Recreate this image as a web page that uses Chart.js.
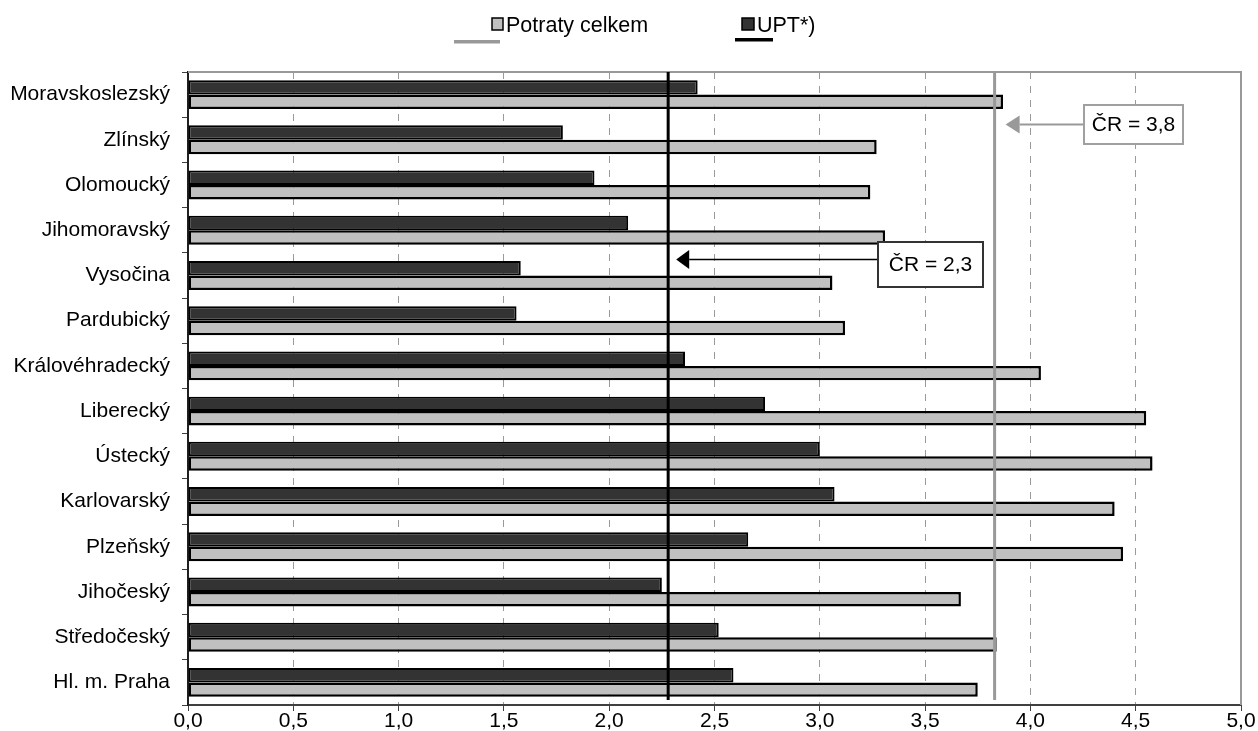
<!DOCTYPE html>
<html>
<head>
<meta charset="utf-8">
<script src="https://cdn.jsdelivr.net/npm/chart.js@4.4.1/dist/chart.umd.min.js"></script>
<style>
  html, body { margin: 0; padding: 0; background: #fff; }
</style>
</head>
<body>
<canvas id="chart" width="1258" height="731"></canvas>
<script>
// regions, top to bottom as in the picture
const regions = ['Moravskoslezský', 'Zlínský', 'Olomoucký', 'Jihomoravský', 'Vysočina', 'Pardubický',
  'Královéhradecký', 'Liberecký', 'Ústecký', 'Karlovarský', 'Plzeňský', 'Jihočeský', 'Středočeský', 'Hl. m. Praha'];

const uptValues = [2.42, 1.78, 1.93, 2.09, 1.58, 1.56, 2.36, 2.74, 3.00, 3.07, 2.66, 2.25, 2.52, 2.59];
const totalValues = [3.87, 3.27, 3.24, 3.31, 3.06, 3.12, 4.05, 4.55, 4.58, 4.40, 4.44, 3.67, 3.84, 3.75];

// country averages (ČR)
const crTotal = 3.83;
const crUpt = 2.28;
const crTotalLabel = 'ČR = 3,8';
const crUptLabel = 'ČR = 2,3';

const xTicks = [0, 0.5, 1, 1.5, 2, 2.5, 3, 3.5, 4, 4.5, 5];

const FONT = 'Liberation Sans, Arial, sans-serif';

function czNumber(v) {
  return Number(v).toFixed(1).replace('.', ',');
}

function arrow(ctx, fromX, tipX, y, color, width, headLen, headHalf) {
  ctx.save();
  ctx.strokeStyle = color;
  ctx.fillStyle = color;
  ctx.lineWidth = width;
  ctx.beginPath();
  ctx.moveTo(fromX, y);
  ctx.lineTo(tipX + headLen, y);
  ctx.stroke();
  ctx.beginPath();
  ctx.moveTo(tipX, y);
  ctx.lineTo(tipX + headLen, y - headHalf);
  ctx.lineTo(tipX + headLen, y + headHalf);
  ctx.closePath();
  ctx.fill();
  ctx.restore();
}

function labelBox(ctx, x, y, w, h, text, border) {
  ctx.save();
  ctx.fillStyle = '#fff';
  ctx.fillRect(x, y, w, h);
  ctx.strokeStyle = border;
  ctx.lineWidth = 2;
  ctx.strokeRect(x, y, w, h);
  ctx.fillStyle = '#000';
  ctx.font = '21px ' + FONT;
  ctx.textBaseline = 'middle';
  ctx.textAlign = 'center';
  ctx.fillText(text, x + w / 2, y + h / 2 + 1);
  ctx.restore();
}

const extras = {
  id: 'extras',
  beforeDatasetsDraw(chart) {
    const {ctx, chartArea} = chart;
    // grey frame on top and right of the plot area
    ctx.save();
    ctx.strokeStyle = '#999';
    ctx.lineWidth = 2;
    ctx.beginPath();
    ctx.moveTo(chartArea.left, chartArea.top);
    ctx.lineTo(chartArea.right, chartArea.top);
    ctx.lineTo(chartArea.right, chartArea.bottom);
    ctx.stroke();
    ctx.restore();
  },
  afterDatasetsDraw(chart) {
    const {ctx, chartArea, scales} = chart;
    const xT = scales.x.getPixelForValue(crTotal);
    const xU = scales.x.getPixelForValue(crUpt);

    ctx.save();
    ctx.lineWidth = 3;
    ctx.strokeStyle = '#999';
    ctx.beginPath();
    ctx.moveTo(xT, chartArea.top);
    ctx.lineTo(xT, chartArea.bottom - 5);
    ctx.stroke();
    ctx.strokeStyle = '#000';
    ctx.beginPath();
    ctx.moveTo(xU, chartArea.top);
    ctx.lineTo(xU, chartArea.bottom - 5);
    ctx.stroke();
    ctx.restore();

    arrow(ctx, 1084, xT + 11, 124.5, '#999', 2, 14, 9);
    labelBox(ctx, 1084, 105, 99, 39, crTotalLabel, '#a0a0a0');

    arrow(ctx, 878, xU + 8, 259.5, '#000', 1.5, 13, 9.5);
    labelBox(ctx, 878, 242, 105, 45, crUptLabel, '#333');
  },
  afterDraw(chart) {
    const ctx = chart.ctx;
    ctx.save();
    // legend: line keys for the ČR lines, box keys for the bars
    ctx.fillStyle = '#999';
    ctx.fillRect(454, 40, 46, 3.5);
    ctx.fillStyle = '#000';
    ctx.fillRect(735, 38, 38, 3.5);

    ctx.lineWidth = 1.5;
    ctx.strokeStyle = '#000';
    ctx.fillStyle = '#c0c0c0';
    ctx.fillRect(492, 18, 11, 12);
    ctx.strokeRect(492, 18, 11, 12);
    ctx.fillStyle = '#333';
    ctx.fillRect(742, 18, 12, 12);
    ctx.strokeRect(742, 18, 12, 12);

    ctx.fillStyle = '#000';
    ctx.font = '21.5px ' + FONT;
    ctx.textBaseline = 'alphabetic';
    ctx.fillText('Potraty celkem', 506, 32);
    ctx.fillText('UPT*)', 757, 32);
    ctx.restore();
  }
};

new Chart(document.getElementById('chart'), {
  type: 'bar',
  data: {
    labels: regions,
    datasets: [
      {
        label: 'UPT*)',
        data: uptValues,
        backgroundColor: '#333333',
        borderColor: '#000',
        borderWidth: 2,
        borderSkipped: false
      },
      {
        label: 'Potraty celkem',
        data: totalValues,
        backgroundColor: '#c0c0c0',
        borderColor: '#000',
        borderWidth: 2.5,
        borderSkipped: false
      }
    ]
  },
  options: {
    indexAxis: 'y',
    locale: 'cs-CZ',
    responsive: false,
    animation: false,
    devicePixelRatio: 1,
    categoryPercentage: 0.64,
    barPercentage: 1.0,
    layout: { padding: { left: 0, right: 17, top: 72, bottom: 0 } },
    plugins: {
      legend: { display: false },
      tooltip: { enabled: false }
    },
    scales: {
      x: {
        type: 'linear',
        min: 0,
        max: 5,
        afterBuildTicks: scale => { scale.ticks = xTicks.map(v => ({ value: v })); },
        afterTickToLabelConversion: scale => {
          scale.ticks.forEach(t => { t.label = czNumber(t.value); });
        },
        afterFit: scale => { scale.height = 26; },
        ticks: {
          color: '#000',
          padding: -2,
          font: { family: FONT, size: 21 },
          callback: function(value) { return czNumber(value); }
        },
        grid: {
          color: c => (c.tick && (c.tick.value === 0 || c.tick.value === 5)) ? 'rgba(0,0,0,0)' : '#9a9a9a',
          lineWidth: 1,
          tickLength: 6,
          tickColor: '#404040'
        },
        border: { color: '#404040', width: 2, dash: [7, 7] }
      },
      y: {
        afterFit: scale => { scale.width = 188; },
        ticks: {
          color: '#000',
          padding: 12,
          font: { family: FONT, size: 21 }
        },
        grid: {
          offset: true,
          drawOnChartArea: false,
          tickLength: 6,
          tickColor: '#404040'
        },
        border: { color: '#202020', width: 2 }
      }
    }
  },
  plugins: [extras]
});
</script>
</body>
</html>
